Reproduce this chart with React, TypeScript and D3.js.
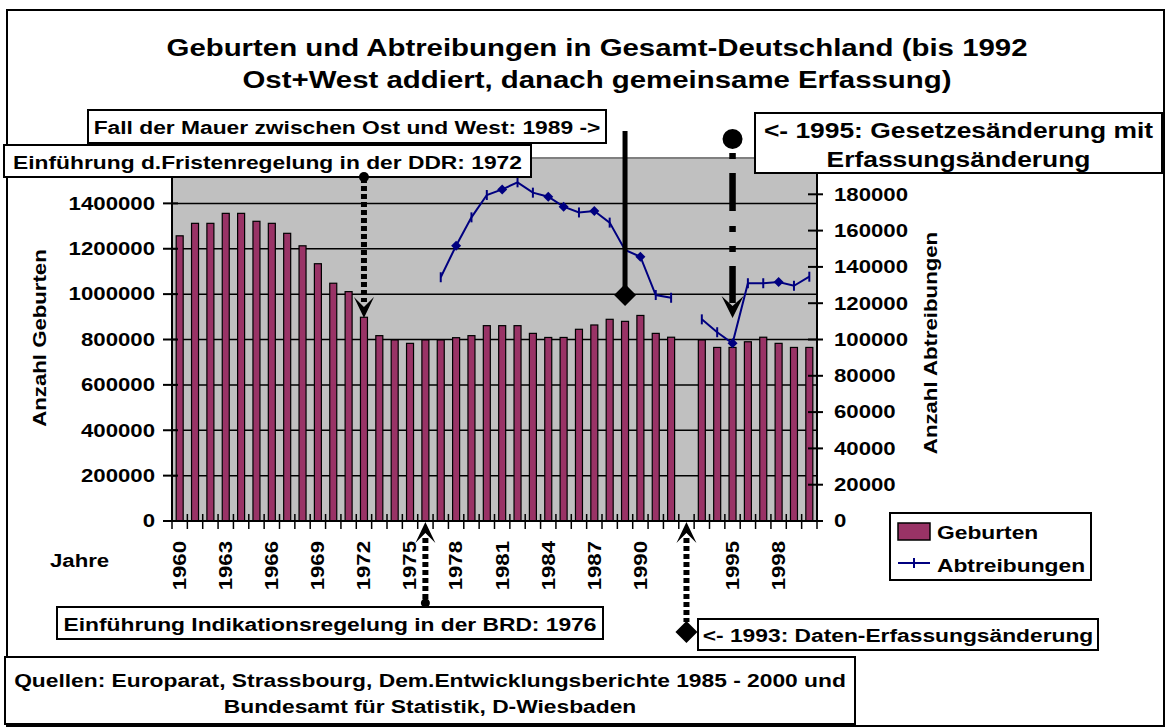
import React from "react";
import * as d3 from "d3";

const categories = [
  "1960","1961","1962","1963","1964","1965","1966","1967","1968","1969",
  "1970","1971","1972","1973","1974","1975","1976","1977","1978","1979",
  "1980","1981","1982","1983","1984","1985","1986","1987","1988","1989",
  "1990","1991","1992","","1993","1994","1995","1996","1997","1998","1999","2000",
];

const births: (number | null)[] = [
  1257000,1312000,1312000,1356000,1356000,1321000,1312000,1268000,1213000,1134000,
  1048000,1011000,898000,817000,798000,783000,798000,798000,808000,817000,
  861000,861000,861000,827000,809000,809000,845000,864000,889000,880000,
  906000,827000,810000,null,798000,765000,765000,790000,810000,783000,765000,765000,
];

const abortions: (number | null)[] = [
  null,null,null,null,null,null,null,null,null,null,
  null,null,null,null,null,null,null,134300,151700,167300,
  179600,182700,186600,180900,178700,173200,170000,170800,164400,149300,
  145600,124500,123000,null,111100,104000,97900,131000,131000,131700,129600,134600,
];

const diamondYears = ["1978","1981","1984","1985","1987","1990","1995","1998"];

const leftTicks = [0,200000,400000,600000,800000,1000000,1200000,1400000];
const rightTicks = [0,20000,40000,60000,80000,100000,120000,140000,160000,180000];

const titleLines = [
  "Geburten und Abtreibungen in Gesamt-Deutschland (bis 1992",
  "Ost+West addiert, danach gemeinsame Erfassung)",
];

const FONT = "'Liberation Sans', Arial, Helvetica, sans-serif";

function T({ x, y, size = 19, anchor = "start", rot = 0, sx = 1.2, fill = "#000", children }: any) {
  return (
    <text
      transform={`translate(${x},${y}) rotate(${rot}) scale(${sx},1)`}
      fontSize={size}
      fontWeight="bold"
      fontFamily={FONT}
      textAnchor={anchor}
      dominantBaseline="central"
      fill={fill}
    >
      {children}
    </text>
  );
}

function Box({ x0, y0, x1, y1, lines, size = 19, ys }: any) {
  const cx = (x0 + x1) / 2;
  const h = y1 - y0;
  const n = lines.length;
  return (
    <g>
      <rect x={x0} y={y0} width={x1 - x0} height={h} fill="#fff" stroke="#000" strokeWidth={2} />
      {lines.map((l: string, i: number) => (
        <T key={i} x={cx} y={ys ? ys[i] : y0 + (h * (i + 0.5)) / n + 1} anchor="middle" size={size}>
          {l}
        </T>
      ))}
    </g>
  );
}

function stealth(cx: number, tip: number, dir: number, w = 10, len = 20, notch = 11) {
  return `M${cx},${tip} L${cx - w},${tip - dir * len} L${cx},${tip - dir * notch} L${cx + w},${tip - dir * len} Z`;
}

export default function App() {
  const W = 1171, H = 728;
  const left = 172, right = 817, top = 158, bottom = 521;

  const x = d3.scaleBand<number>().domain(categories.map((_, i) => i)).range([left, right]).padding(0);
  const bw = x.bandwidth();
  const xc = (i: number) => (x(i) as number) + bw / 2;
  const yL = d3.scaleLinear().domain([0, 1600000]).range([bottom, top]);
  const yR = d3.scaleLinear().domain([0, 200000]).range([bottom, top]);

  const idx = (year: string) => categories.indexOf(year);
  const gapIdx = categories.indexOf("");

  const pts = abortions.map((v, i) => ({ i, v }));
  const line = d3
    .line<{ i: number; v: number | null }>()
    .defined((d) => d.v != null)
    .x((d) => xc(d.i))
    .y((d) => yR(d.v as number));

  const barW = 7;

  const a72 = xc(idx("1972"));
  const a76 = xc(idx("1976"));
  const a89 = xc(idx("1989"));
  const a93 = xc(gapIdx);
  const a95 = xc(idx("1995"));

  return (
    <svg width={W} height={H} style={{ position: "absolute", left: 0, top: 0, background: "#fff" }}>
      <rect x={0} y={0} width={W} height={H} fill="#fff" />
      {/* outer chart border */}
      <rect x={7} y={10} width={1157} height={716} fill="#fff" stroke="#000" strokeWidth={2} />

      {/* title */}
      {titleLines.map((t, i) => (
        <T key={i} x={597} y={48 + i * 32} anchor="middle" size={24.5}>
          {t}
        </T>
      ))}

      {/* plot area */}
      <rect x={left} y={top} width={right - left} height={bottom - top} fill="#c0c0c0" />
      {leftTicks.filter((v) => v > 0).map((v) => (
        <line key={v} x1={left} x2={right} y1={yL(v)} y2={yL(v)} stroke="#000" strokeWidth={1.5} />
      ))}
      <line x1={left} x2={right} y1={top} y2={top} stroke="#808080" strokeWidth={2} />

      {/* bars */}
      {births.map((v, i) =>
        v == null ? null : (
          <rect
            key={i}
            x={xc(i) - barW / 2}
            y={yL(v)}
            width={barW}
            height={bottom - yL(v)}
            fill="#993366"
            stroke="#000"
            strokeWidth={1.2}
          />
        )
      )}

      {/* axes */}
      <line x1={left} x2={left} y1={top} y2={bottom} stroke="#000" strokeWidth={2} />
      <line x1={right} x2={right} y1={top} y2={bottom} stroke="#000" strokeWidth={2} />
      <line x1={left} x2={right + 6} y1={bottom} y2={bottom} stroke="#000" strokeWidth={2} />
      {leftTicks.map((v) => (
        <g key={v}>
          <line x1={left - 9} x2={left + 6} y1={yL(v)} y2={yL(v)} stroke="#000" strokeWidth={2} />
          <T x={155} y={yL(v)} anchor="end" size={18.5}>
            {String(v)}
          </T>
        </g>
      ))}
      {rightTicks.map((v) => (
        <g key={v}>
          <line x1={right - 9} x2={right + 6} y1={yR(v)} y2={yR(v)} stroke="#000" strokeWidth={2} />
          <T x={834} y={yR(v)} anchor="start" size={18.5}>
            {String(v)}
          </T>
        </g>
      ))}
      {d3.range(categories.length + 1).map((k) => (
        <line key={k} x1={left + k * bw} x2={left + k * bw} y1={bottom - 7} y2={bottom + 8} stroke="#000" strokeWidth={1.5} />
      ))}
      {categories.map((c, i) =>
        i % 3 === 0 && c !== "" ? (
          <T key={i} x={xc(i)} y={541} anchor="end" rot={-90} size={18.5}>
            {c}
          </T>
        ) : null
      )}
      <T x={40} y={338} anchor="middle" rot={-90} size={18.5}>
        Anzahl Geburten
      </T>
      <T x={931} y={343} anchor="middle" rot={-90} size={18.5}>
        Anzahl Abtreibungen
      </T>
      <T x={50} y={561} anchor="start" size={18.5}>
        Jahre
      </T>

      {/* abortions line */}
      <path d={line(pts) || ""} fill="none" stroke="#000080" strokeWidth={2} />
      {pts.map((d) =>
        d.v == null ? null : diamondYears.includes(categories[d.i]) ? (
          <path
            key={d.i}
            d={`M${xc(d.i)},${yR(d.v) - 5} L${xc(d.i) + 5},${yR(d.v)} L${xc(d.i)},${yR(d.v) + 5} L${xc(d.i) - 5},${yR(d.v)} Z`}
            fill="#000080"
          />
        ) : (
          <line key={d.i} x1={xc(d.i)} x2={xc(d.i)} y1={yR(d.v) - 5} y2={yR(d.v) + 5} stroke="#000080" strokeWidth={2} />
        )
      )}

      {/* legend */}
      <rect x={890} y={513} width={201} height={67} fill="#fff" stroke="#000" strokeWidth={2} />
      <rect x={898} y={523} width={32} height={17} fill="#993366" stroke="#000" strokeWidth={1.5} />
      <T x={937} y={532} size={19}>Geburten</T>
      <line x1={898} x2={930} y1={563} y2={563} stroke="#000080" strokeWidth={2} />
      <line x1={914} x2={914} y1={558} y2={568} stroke="#000080" strokeWidth={2} />
      <T x={937} y={565} size={19}>Abtreibungen</T>

      {/* annotation: 1972 */}
      <line x1={a72} x2={a72} y1={178} y2={302} stroke="#000" strokeWidth={6} strokeDasharray="5,3" />
      <path d={stealth(a72, 318, 1, 10, 21, 11)} fill="#000" />

      {/* annotation: 1989 */}
      <line x1={a89} x2={a89} y1={131} y2={290} stroke="#000" strokeWidth={5} />
      <path d={`M${a89},${284} L${a89 + 11},${295} L${a89},${306} L${a89 - 11},${295} Z`} fill="#000" />

      {/* annotation: 1995 */}
      <circle cx={a95} cy={139} r={10} fill="#000" />
      <line x1={a95} x2={a95} y1={153} y2={303} stroke="#000" strokeWidth={6.5} strokeDasharray="6,14,38,15,6,14" />
      <path d={stealth(a95, 318, 1, 11, 22, 12)} fill="#000" />

      {/* annotation: 1976 */}
      <path d={stealth(a76, 522, -1, 10, 21, 11)} fill="#000" />
      <line x1={a76} x2={a76} y1={538} y2={601} stroke="#000" strokeWidth={6} strokeDasharray="5,3" />
      <circle cx={a76} cy={603} r={4.5} fill="#000" />

      {/* annotation: 1993 */}
      <path d={stealth(a93, 522, -1, 10, 21, 11)} fill="#000" />
      <line x1={a93} x2={a93} y1={538} y2={622} stroke="#000" strokeWidth={6} strokeDasharray="5,3" />
      <path d={`M${a93},${621} L${a93 + 11},${632} L${a93},${643} L${a93 - 11},${632} Z`} fill="#000" />

      {/* boxes */}
      <Box x0={88} y0={110} x1={606} y1={143} lines={["Fall der Mauer zwischen Ost und West: 1989 ->"]} />
      <Box x0={4} y0={145} x1={531} y1={177} lines={["Einführung d.Fristenregelung in der DDR: 1972"]} />
      <circle cx={a72} cy={177} r={5} fill="#000" />
      <Box
        x0={755}
        y0={113}
        x1={1162}
        y1={173}
        size={22}
        ys={[130, 159]}
        lines={["<- 1995: Gesetzesänderung mit", "Erfassungsänderung"]}
      />
      <Box x0={57} y0={607} x1={603} y1={639} lines={["Einführung Indikationsregelung in der BRD: 1976"]} />
      <Box x0={698} y0={619} x1={1098} y1={650} lines={["<- 1993: Daten-Erfassungsänderung"]} />
      <Box
        x0={5}
        y0={657}
        x1={855}
        y1={724}
        size={19}
        ys={[680, 706]}
        lines={[
          "Quellen: Europarat, Strassbourg, Dem.Entwicklungsberichte 1985 - 2000 und",
          "Bundesamt für Statistik, D-Wiesbaden",
        ]}
      />
    </svg>
  );
}
